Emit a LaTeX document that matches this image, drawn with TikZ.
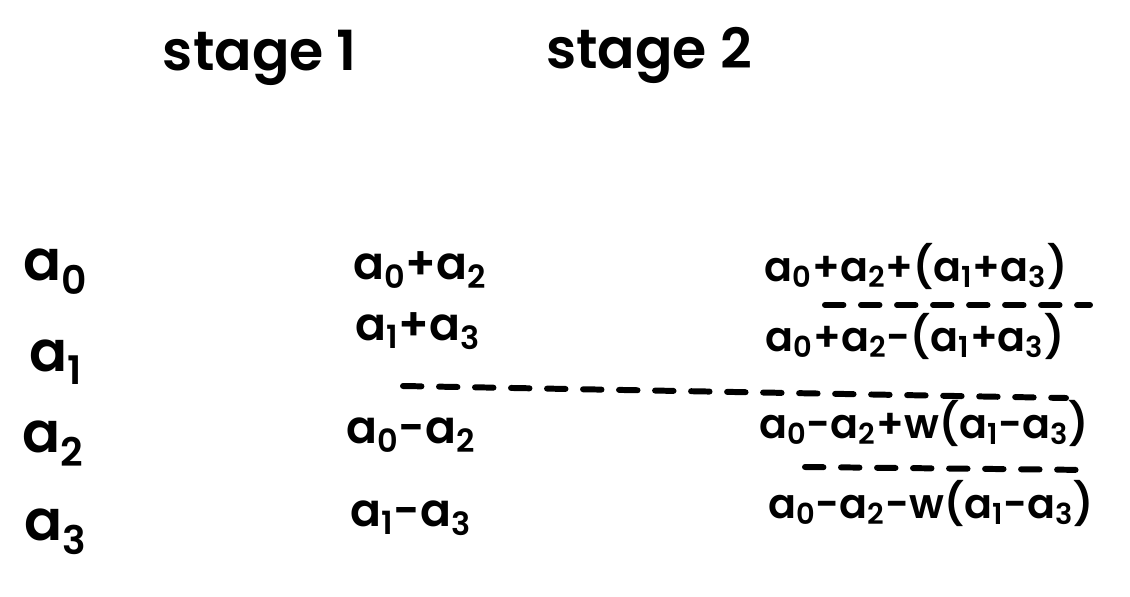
\documentclass[tikz,border=0pt]{standalone}
\usepackage{fontspec}
\setmainfont{Poppins}[UprightFont=* SemiBold]
\newcommand{\idx}[1]{\textsubscript{#1}}
\begin{document}
\begin{tikzpicture}[x=0.02cm,y=-0.02cm]
        \tikzstyle{head}=[font=\fontsize{31.5}{35}\selectfont]
        \tikzstyle{input}=[font=\fontsize{32}{36}\selectfont]
        \tikzstyle{mid}=[font=\fontsize{26}{30}\selectfont]
        \tikzstyle{result}=[font=\fontsize{23.5}{27}\selectfont]
        \tikzstyle{split}=[line width=3.4pt, line cap=round, dash pattern=on 10.5pt off 10pt]
        \useasboundingbox (0,0) rectangle (1130,596);
        % headings
        \node[head] (s1) at (260,58) {stage 1};
        \node[head] (s2) at (649,55) {stage 2};
        % inputs
        \node[input] (a0) at (56,272) {a\idx{0}};
        \node[input] (a1) at (56,362) {a\idx{1}};
        \node[input] (a2) at (53,444) {a\idx{2}};
        \node[input] (a3) at (56,532) {a\idx{3}};
        % stage 1
        \node[mid] (p02) at (420,270) {a\idx{0}+a\idx{2}};
        \node[mid] (p13) at (418,331) {a\idx{1}+a\idx{3}};
        \node[mid] (m02) at (411,435) {a\idx{0}-a\idx{2}};
        \node[mid] (m13) at (411,518) {a\idx{1}-a\idx{3}};
        % stage 2
        \node[result] (y0) at (916,266) {a\idx{0}+a\idx{2}+(a\idx{1}+a\idx{3})};
        \node[result] (y1) at (915,336) {a\idx{0}+a\idx{2}-(a\idx{1}+a\idx{3})};
        \node[result] (y2) at (924,423) {a\idx{0}-a\idx{2}+w(a\idx{1}-a\idx{3})};
        \node[result] (y3) at (931,503) {a\idx{0}-a\idx{2}-w(a\idx{1}-a\idx{3})};
        % dividers
        \coordinate (d1a) at (403,386);
        \coordinate (d1b) at (1066,398);
        \coordinate (d2a) at (825,305);
        \coordinate (d2b) at (1090,305);
        \coordinate (d3a) at (805,467);
        \coordinate (d3b) at (1090,470);
        \draw[split] (d1a) -- (d1b);
        \draw[split] (d2a) -- (d2b);
        \draw[split] (d3a) -- (d3b);
      \end{tikzpicture}
\end{document}
